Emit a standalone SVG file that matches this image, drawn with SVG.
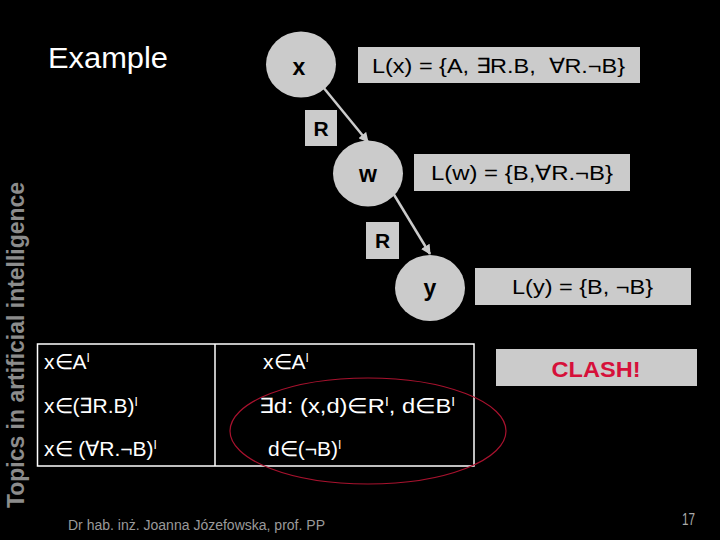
<svg xmlns="http://www.w3.org/2000/svg" width="720" height="540" viewBox="0 0 720 540">
<style>
.node{fill:#cbcbcb}
.lbl{font-family:"Liberation Sans",Arial,sans-serif;font-weight:bold;font-size:23px;fill:#000;text-anchor:middle}
.rl{font-family:"Liberation Sans",Arial,sans-serif;font-weight:bold;font-size:21px;fill:#000;text-anchor:middle}
.box{font-family:"Liberation Sans",Arial,sans-serif;font-size:21px;fill:#000}
.tt{font-family:"Liberation Sans",Arial,sans-serif;font-size:21px;fill:#fff}
.conn{stroke:#cbcbcb;stroke-width:2.5;fill:none;marker-end:url(#ah)}
.sup{font-size:12px}
</style>
<defs>
<marker id="ah" viewBox="0 0 10 10" refX="9" refY="5" markerWidth="4" markerHeight="4" orient="auto" markerUnits="strokeWidth">
<path d="M0,0 L10,5 L0,10 z" fill="#cbcbcb"/>
</marker>
</defs>
<rect x="0" y="0" width="720" height="540" fill="#000"/>
<text x="48" y="68" font-family="'Liberation Sans',Arial,sans-serif" font-size="29" fill="#fff" textLength="120" lengthAdjust="spacingAndGlyphs">Example</text>
<text transform="translate(24,508) rotate(-90)" font-family="'Liberation Sans',Arial,sans-serif" font-weight="bold" font-size="23" fill="#8c8c8c" textLength="326" lengthAdjust="spacingAndGlyphs">Topics in artificial intelligence</text>

<g id="connectors">
<line class="conn" x1="323" y1="87" x2="368" y2="142"/>
<line class="conn" x1="393" y1="193" x2="430" y2="254"/>
</g>

<g id="node-x">
<ellipse class="node" cx="301" cy="64.5" rx="35" ry="33"/>
<text class="lbl" x="299" y="75">x</text>
</g>
<g id="label-x">
<rect class="node" x="358" y="47" width="282" height="36"/>
<text class="box" x="372" y="73" textLength="253" lengthAdjust="spacingAndGlyphs" xml:space="preserve">L(x) = {A, ∃R.B,  ∀R.¬B}</text>
</g>
<g id="edge-label-1">
<rect class="node" x="305" y="110" width="32" height="36"/>
<text class="rl" x="321" y="136">R</text>
</g>
<g id="node-w">
<ellipse class="node" cx="368" cy="173.5" rx="35" ry="33"/>
<text class="lbl" x="368" y="182">w</text>
</g>
<g id="label-w">
<rect class="node" x="414" y="154" width="216" height="37"/>
<text class="box" x="431" y="180" textLength="182" lengthAdjust="spacingAndGlyphs">L(w) = {B,∀R.¬B}</text>
</g>
<g id="edge-label-2">
<rect class="node" x="366" y="222" width="33" height="37"/>
<text class="rl" x="382.5" y="248">R</text>
</g>
<g id="node-y">
<ellipse class="node" cx="430" cy="288" rx="35" ry="33"/>
<text class="lbl" x="430" y="296">y</text>
</g>
<g id="label-y">
<rect class="node" x="475" y="268" width="216" height="37"/>
<text class="box" x="512" y="294" textLength="141" lengthAdjust="spacingAndGlyphs">L(y) = {B, ¬B}</text>
</g>

<g id="table">
<rect x="37.5" y="344" width="436.5" height="122" fill="none" stroke="#fff" stroke-width="1.5"/>
<line x1="215" y1="344" x2="215" y2="466" stroke="#fff" stroke-width="1.5"/>
<text class="tt" x="44" y="369">x∈A<tspan class="sup" dy="-7">I</tspan></text>
<text class="tt" x="44" y="413">x∈(∃R.B)<tspan class="sup" dy="-7">I</tspan></text>
<text class="tt" x="44" y="456">x∈ (∀R.¬B)<tspan class="sup" dy="-7">I</tspan></text>
<text class="tt" x="263" y="369">x∈A<tspan class="sup" dy="-7">I</tspan></text>
<text class="tt" x="259" y="413" textLength="196" lengthAdjust="spacingAndGlyphs">∃d: (x,d)∈R<tspan class="sup" dy="-7">I</tspan><tspan dy="7">, d∈B</tspan><tspan class="sup" dy="-7">I</tspan></text>
<text class="tt" x="268" y="456">d∈(¬B)<tspan class="sup" dy="-7">I</tspan></text>
</g>

<g id="highlight">
<ellipse cx="368" cy="431" rx="138" ry="53" fill="none" stroke="#a8122e" stroke-width="1.2"/>
</g>

<g id="clash">
<rect class="node" x="496" y="349" width="201" height="37"/>
<text x="596" y="377" font-family="'Liberation Sans',Arial,sans-serif" font-weight="bold" font-size="22" fill="#d6103a" text-anchor="middle" textLength="89" lengthAdjust="spacingAndGlyphs">CLASH!</text>
</g>

<text x="68" y="530" font-family="'Liberation Sans',Arial,sans-serif" font-size="14" fill="#9a9a9a" textLength="257" lengthAdjust="spacingAndGlyphs">Dr hab. inż. Joanna Józefowska, prof. PP</text>
<text x="682" y="525" font-family="'Liberation Sans',Arial,sans-serif" font-size="17" fill="#aaaaaa" textLength="13" lengthAdjust="spacingAndGlyphs">17</text>
</svg>
